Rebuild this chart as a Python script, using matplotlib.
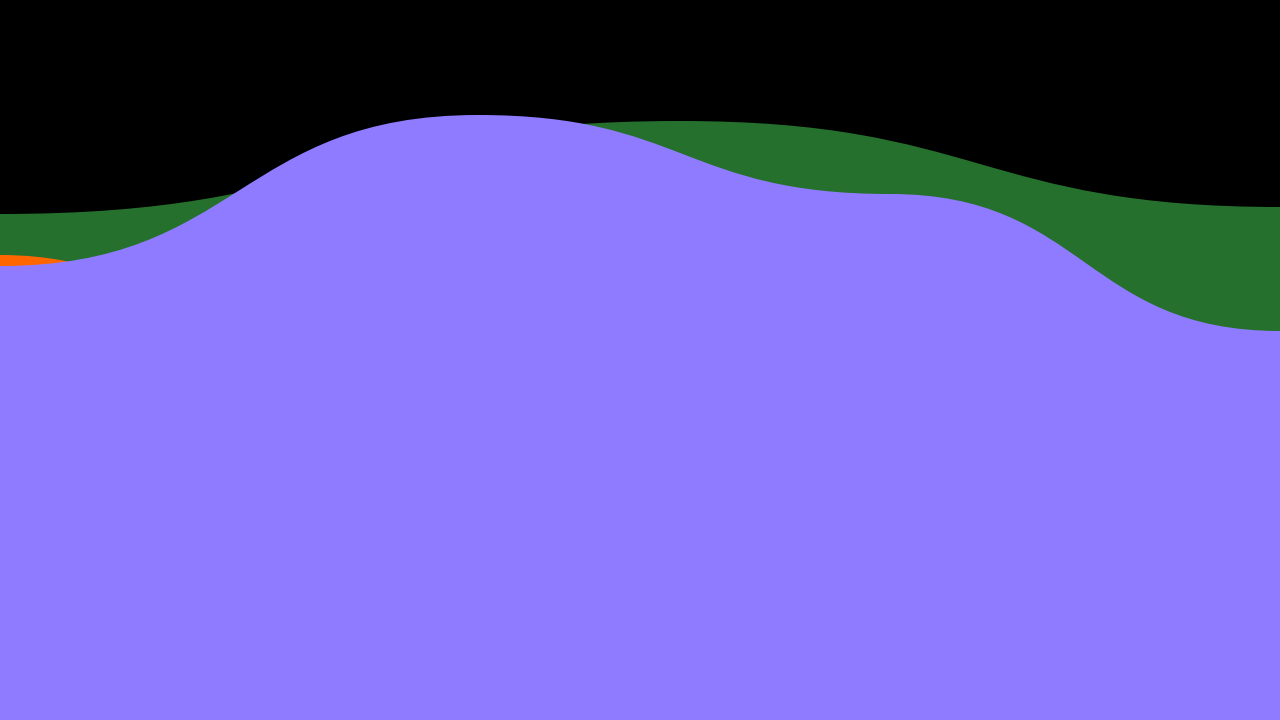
import numpy as np
import matplotlib
matplotlib.use("Agg")
import matplotlib.pyplot as plt
from matplotlib.path import Path
from matplotlib.patches import PathPatch

# key points of each wave layer (x in px, height from the bottom)
green_x = [0, 680, 1280]
green_y = [506, 599, 513]
orange_x = [0, 400, 850, 1280]
orange_y = [465, 320, 370, 300]
purple_x = [0, 478, 890, 1280]
purple_y = [454, 605, 526, 389]

colors = {"green": "#26702d", "orange": "#ff6600", "purple": "#8f7bff"}


def wave(xs, ys):
    # smooth wave: cubic bezier between points, handles flat at the midpoint
    verts = [(xs[0], 0), (xs[0], ys[0])]
    codes = [Path.MOVETO, Path.LINETO]
    for i in range(len(xs) - 1):
        mid = (xs[i] + xs[i + 1]) / 2
        verts += [(mid, ys[i]), (mid, ys[i + 1]), (xs[i + 1], ys[i + 1])]
        codes += [Path.CURVE4] * 3
    verts += [(xs[-1], 0), (xs[0], 0)]
    codes += [Path.LINETO, Path.CLOSEPOLY]
    return Path(verts, codes)


fig = plt.figure(figsize=(12.8, 7.2), dpi=100, facecolor="black")
ax = fig.add_axes([0, 0, 1, 1])
ax.set_facecolor("black")

for name, xs, ys in [("green", green_x, green_y),
                     ("orange", orange_x, orange_y),
                     ("purple", purple_x, purple_y)]:
    ax.add_patch(PathPatch(wave(xs, ys), facecolor=colors[name], edgecolor="none"))

ax.set_xlim(0, 1280)
ax.set_ylim(0, 720)
ax.axis("off")
fig.savefig("out.png", dpi=100, facecolor="black")
